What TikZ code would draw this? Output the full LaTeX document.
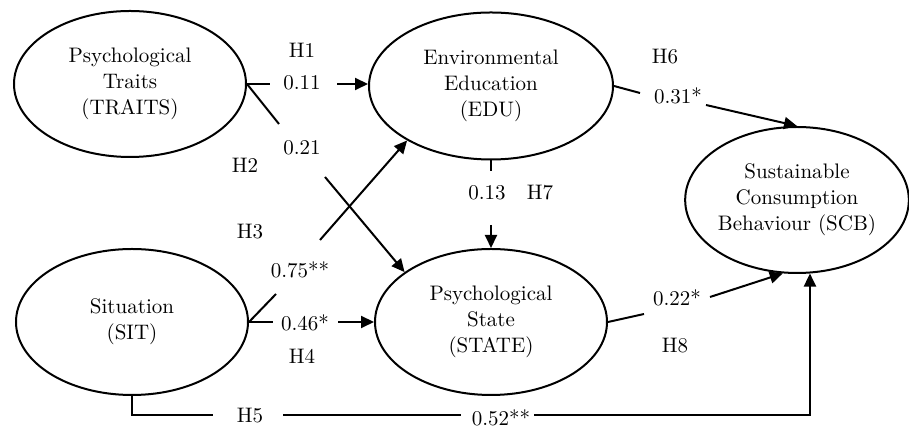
\documentclass[tikz,border=0pt]{standalone}
\usepackage{amsmath}
\usepackage{tikz}
\usetikzlibrary{shapes.geometric,arrows.meta}

\begin{document}
\begin{tikzpicture}[x=0.5pt,y=-0.5pt,
  latent/.style={ellipse,draw,line width=1pt,inner sep=0pt,minimum width=116pt,minimum height=73pt,align=center,font=\fontsize{10.5}{13}\selectfont},
  coef/.style={font=\fontsize{10.5}{12}\selectfont},
  link/.style={line width=1pt},
  arr/.style={link,-{Triangle[length=6.5pt,width=6pt]}}]
\useasboundingbox (0,0) rectangle (909,431);
\node[latent] (traits) at (130,84) {Psychological\\Traits\\(TRAITS)};
\node[latent,minimum width=122pt,minimum height=73.5pt] (edu) at (491,86) {Environmental\\Education\\(EDU)};
\node[latent] (sit) at (132,322) {Situation\\(SIT)};
\node[latent] (state) at (491,322) {Psychological\\State\\(STATE)};
\node[latent,minimum width=110pt,minimum height=73pt] (scb) at (797,200) {Sustainable\\Consumption\\Behaviour (SCB)};
\node[coef] (h1) at (302,50) {H1};
\node[coef] (c011) at (302,83) {0.11};
\node[coef] (c021) at (302,148) {0.21};
\node[coef] (h2) at (245,165) {H2};
\node[coef] (h3) at (250,232) {H3};
\node[coef] (c075) at (300,270) {0.75**};
\node[coef] (c046) at (305,323) {0.46*};
\node[coef] (h4) at (302,356) {H4};
\node[coef] (h5) at (250,416) {H5};
\node[coef] (c052) at (501,418) {0.52**};
\node[coef] (h6) at (665,57) {H6};
\node[coef] (c031) at (678,96) {0.31*};
\node[coef] (c013) at (487,193) {0.13};
\node[coef] (h7) at (540,193) {H7};
\node[coef] (c022) at (677,298) {0.22*};
\node[coef] (h8) at (675,346) {H8};
\coordinate (h1a) at (270,84);
\coordinate (h1b) at (337,84);
\coordinate (h2a) at (279,124);
\coordinate (h2b) at (325,177);
\coordinate (h3a) at (276,294);
\coordinate (h3b) at (320,240);
\coordinate (h4a) at (273,322);
\coordinate (h4b) at (338,322);
\coordinate (h5a) at (213,415);
\coordinate (h5b) at (283,415);
\coordinate (h5c) at (461,415);
\coordinate (h5d) at (534,415);
\coordinate (h6a) at (640,93);
\coordinate (h6b) at (706,105);
\coordinate (h7a) at (491,171);
\coordinate (h7b) at (491,225);
\coordinate (h8a) at (644,314);
\coordinate (h8b) at (710,297);
\draw[link] (traits.east) -- (h1a);
\draw[arr] (h1b) -- (edu.west |- h1b);
\draw[link] (traits.east) -- (h2a);
\draw[arr] (h2b) -- (state.150);
\draw[link] (sit.east) -- (h3a);
\draw[arr] (h3b) -- (edu.213);
\draw[link] (sit.east) -- (h4a);
\draw[arr] (h4b) -- (state.west);
\draw[link] (sit.south) |- (h5a);
\draw[link] (h5b) -- (h5c);
\draw[arr] (h5d) -| (scb.-80);
\draw[link] (edu.east) -- (h6a);
\draw[arr] (h6b) -- (scb.north);
\draw[link] (edu.south) -- (h7a);
\draw[arr] (h7b) -- (state.north);
\draw[link] (state.east) -- (h8a);
\draw[arr] (h8b) -- (scb.-101);
\end{tikzpicture}
\end{document}
